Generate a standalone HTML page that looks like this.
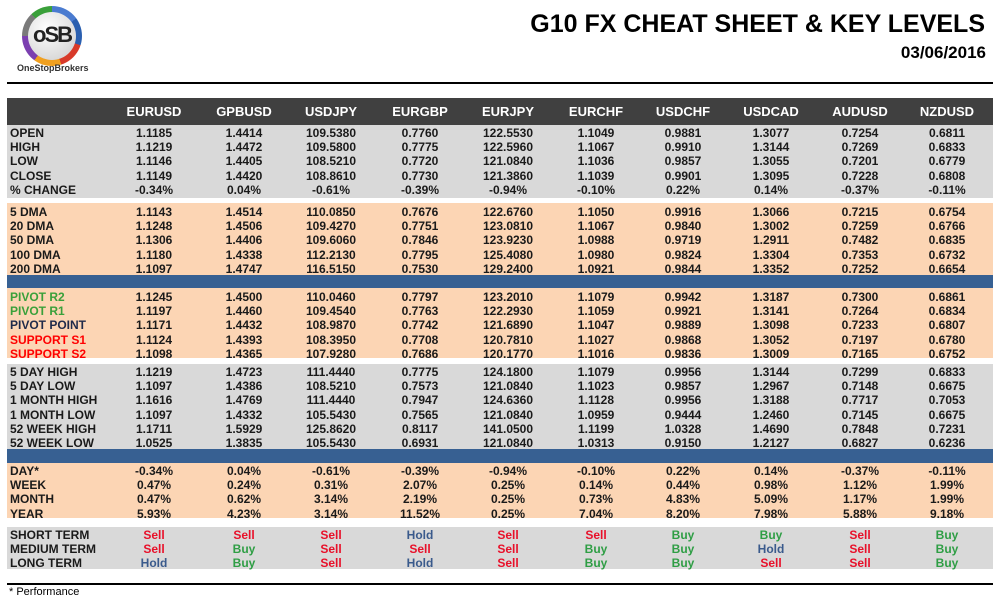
<!DOCTYPE html>
<html><head><meta charset="utf-8"><style>
body{margin:0;width:1002px;height:603px;background:#fff;position:relative;font-family:"Liberation Sans",Arial,sans-serif;overflow:hidden}
.a{position:absolute}
.sec{position:absolute;left:7px;width:986px}
.r{position:relative;height:14.2px;font-size:12px;font-weight:bold;color:#1a1a1a;line-height:14.2px}
.r span{position:absolute;width:88px;text-align:center;top:0}
.r span:first-child{left:3px;width:120px;text-align:left}
.r span:nth-child(2){left:103px}.r span:nth-child(3){left:193px}.r span:nth-child(4){left:280px}.r span:nth-child(5){left:369px}.r span:nth-child(6){left:457px}.r span:nth-child(7){left:545px}.r span:nth-child(8){left:632px}.r span:nth-child(9){left:720px}.r span:nth-child(10){left:809px}.r span:nth-child(11){left:896px}
.g{background:#d9d9d9}.p{background:#fcd5b4}.b{background:#376092}
.hd{background:#404040}.hd .r{color:#fff;font-size:13px;height:27px;line-height:27px}
.gr{color:#3aa03a!important}.rd{color:#f00!important}
.S{color:#e8102a}.B{color:#2f9e45}.H{color:#3a5a8c}
</style></head><body>
<div class="a" style="left:22px;top:6px;width:60px;height:60px;border-radius:50%;background:conic-gradient(#4a7bd0 0 15%,#2a5fb0 15% 30%,#d83a2a 30% 45%,#f0a020 45% 60%,#7b3fb0 60% 75%,#7a7a7a 75% 88%,#3aa03a 88% 100%)"></div>
<div class="a" style="left:28px;top:12px;width:48px;height:48px;border-radius:50%;background:radial-gradient(circle at 40% 35%,#fff,#ccc)"></div>
<div class="a" style="left:28px;top:22px;width:48px;text-align:center;font-weight:bold;font-size:22px;color:#222;letter-spacing:-2px">oSB</div>
<div class="a" style="left:17px;top:63px;font-size:9px;font-weight:bold;color:#333">OneStopBrokers</div>
<div class="a" style="right:17px;top:10px;font-size:25px;font-weight:bold;color:#000">G10 FX CHEAT SHEET &amp; KEY LEVELS</div>
<div class="a" style="right:16px;top:43px;font-size:17px;font-weight:bold;color:#000">03/06/2016</div>
<div class="a" style="left:7px;top:82px;width:986px;height:2px;background:#000"></div>

<div class="sec hd" style="top:98px;height:27px"><div class="r"><span></span><span>EURUSD</span><span>GPBUSD</span><span>USDJPY</span><span>EURGBP</span><span>EURJPY</span><span>EURCHF</span><span>USDCHF</span><span>USDCAD</span><span>AUDUSD</span><span>NZDUSD</span></div></div>

<div class="sec g" style="top:125px;height:73px;padding-top:1px;box-sizing:border-box">
<div class="r"><span>OPEN</span><span>1.1185</span><span>1.4414</span><span>109.5380</span><span>0.7760</span><span>122.5530</span><span>1.1049</span><span>0.9881</span><span>1.3077</span><span>0.7254</span><span>0.6811</span></div>
<div class="r"><span>HIGH</span><span>1.1219</span><span>1.4472</span><span>109.5800</span><span>0.7775</span><span>122.5960</span><span>1.1067</span><span>0.9910</span><span>1.3144</span><span>0.7269</span><span>0.6833</span></div>
<div class="r"><span>LOW</span><span>1.1146</span><span>1.4405</span><span>108.5210</span><span>0.7720</span><span>121.0840</span><span>1.1036</span><span>0.9857</span><span>1.3055</span><span>0.7201</span><span>0.6779</span></div>
<div class="r"><span>CLOSE</span><span>1.1149</span><span>1.4420</span><span>108.8610</span><span>0.7730</span><span>121.3860</span><span>1.1039</span><span>0.9901</span><span>1.3095</span><span>0.7228</span><span>0.6808</span></div>
<div class="r"><span>% CHANGE</span><span>-0.34%</span><span>0.04%</span><span>-0.61%</span><span>-0.39%</span><span>-0.94%</span><span>-0.10%</span><span>0.22%</span><span>0.14%</span><span>-0.37%</span><span>-0.11%</span></div>
</div>

<div class="sec p" style="top:203px;height:72px;padding-top:2px;box-sizing:border-box">
<div class="r"><span>5 DMA</span><span>1.1143</span><span>1.4514</span><span>110.0850</span><span>0.7676</span><span>122.6760</span><span>1.1050</span><span>0.9916</span><span>1.3066</span><span>0.7215</span><span>0.6754</span></div>
<div class="r"><span>20 DMA</span><span>1.1248</span><span>1.4506</span><span>109.4270</span><span>0.7751</span><span>123.0810</span><span>1.1067</span><span>0.9840</span><span>1.3002</span><span>0.7259</span><span>0.6766</span></div>
<div class="r"><span>50 DMA</span><span>1.1306</span><span>1.4406</span><span>109.6060</span><span>0.7846</span><span>123.9230</span><span>1.0988</span><span>0.9719</span><span>1.2911</span><span>0.7482</span><span>0.6835</span></div>
<div class="r"><span>100 DMA</span><span>1.1180</span><span>1.4338</span><span>112.2130</span><span>0.7795</span><span>125.4080</span><span>1.0980</span><span>0.9824</span><span>1.3304</span><span>0.7353</span><span>0.6732</span></div>
<div class="r"><span>200 DMA</span><span>1.1097</span><span>1.4747</span><span>116.5150</span><span>0.7530</span><span>129.2400</span><span>1.0921</span><span>0.9844</span><span>1.3352</span><span>0.7252</span><span>0.6654</span></div>
</div>
<div class="sec b" style="top:275px;height:13px"></div>

<div class="sec p" style="top:288px;height:70px;padding-top:2px;box-sizing:border-box">
<div class="r"><span class="gr">PIVOT R2</span><span>1.1245</span><span>1.4500</span><span>110.0460</span><span>0.7797</span><span>123.2010</span><span>1.1079</span><span>0.9942</span><span>1.3187</span><span>0.7300</span><span>0.6861</span></div>
<div class="r"><span class="gr">PIVOT R1</span><span>1.1197</span><span>1.4460</span><span>109.4540</span><span>0.7763</span><span>122.2930</span><span>1.1059</span><span>0.9921</span><span>1.3141</span><span>0.7264</span><span>0.6834</span></div>
<div class="r"><span style="color:#1f2a4a">PIVOT POINT</span><span>1.1171</span><span>1.4432</span><span>108.9870</span><span>0.7742</span><span>121.6890</span><span>1.1047</span><span>0.9889</span><span>1.3098</span><span>0.7233</span><span>0.6807</span></div>
<div class="r"><span class="rd">SUPPORT S1</span><span>1.1124</span><span>1.4393</span><span>108.3950</span><span>0.7708</span><span>120.7810</span><span>1.1027</span><span>0.9868</span><span>1.3052</span><span>0.7197</span><span>0.6780</span></div>
<div class="r"><span class="rd">SUPPORT S2</span><span>1.1098</span><span>1.4365</span><span>107.9280</span><span>0.7686</span><span>120.1770</span><span>1.1016</span><span>0.9836</span><span>1.3009</span><span>0.7165</span><span>0.6752</span></div>
</div>

<div class="sec g" style="top:364px;height:85px;padding-top:1px;box-sizing:border-box">
<div class="r"><span>5 DAY HIGH</span><span>1.1219</span><span>1.4723</span><span>111.4440</span><span>0.7775</span><span>124.1800</span><span>1.1079</span><span>0.9956</span><span>1.3144</span><span>0.7299</span><span>0.6833</span></div>
<div class="r"><span>5 DAY LOW</span><span>1.1097</span><span>1.4386</span><span>108.5210</span><span>0.7573</span><span>121.0840</span><span>1.1023</span><span>0.9857</span><span>1.2967</span><span>0.7148</span><span>0.6675</span></div>
<div class="r"><span>1 MONTH HIGH</span><span>1.1616</span><span>1.4769</span><span>111.4440</span><span>0.7947</span><span>124.6360</span><span>1.1128</span><span>0.9956</span><span>1.3188</span><span>0.7717</span><span>0.7053</span></div>
<div class="r"><span>1 MONTH LOW</span><span>1.1097</span><span>1.4332</span><span>105.5430</span><span>0.7565</span><span>121.0840</span><span>1.0959</span><span>0.9444</span><span>1.2460</span><span>0.7145</span><span>0.6675</span></div>
<div class="r"><span>52 WEEK HIGH</span><span>1.1711</span><span>1.5929</span><span>125.8620</span><span>0.8117</span><span>141.0500</span><span>1.1199</span><span>1.0328</span><span>1.4690</span><span>0.7848</span><span>0.7231</span></div>
<div class="r"><span>52 WEEK LOW</span><span>1.0525</span><span>1.3835</span><span>105.5430</span><span>0.6931</span><span>121.0840</span><span>1.0313</span><span>0.9150</span><span>1.2127</span><span>0.6827</span><span>0.6236</span></div>
</div>
<div class="sec b" style="top:449px;height:14px"></div>

<div class="sec p" style="top:463px;height:55px;padding-top:1px;box-sizing:border-box">
<div class="r"><span>DAY*</span><span>-0.34%</span><span>0.04%</span><span>-0.61%</span><span>-0.39%</span><span>-0.94%</span><span>-0.10%</span><span>0.22%</span><span>0.14%</span><span>-0.37%</span><span>-0.11%</span></div>
<div class="r"><span>WEEK</span><span>0.47%</span><span>0.24%</span><span>0.31%</span><span>2.07%</span><span>0.25%</span><span>0.14%</span><span>0.44%</span><span>0.98%</span><span>1.12%</span><span>1.99%</span></div>
<div class="r"><span>MONTH</span><span>0.47%</span><span>0.62%</span><span>3.14%</span><span>2.19%</span><span>0.25%</span><span>0.73%</span><span>4.83%</span><span>5.09%</span><span>1.17%</span><span>1.99%</span></div>
<div class="r"><span>YEAR</span><span>5.93%</span><span>4.23%</span><span>3.14%</span><span>11.52%</span><span>0.25%</span><span>7.04%</span><span>8.20%</span><span>7.98%</span><span>5.88%</span><span>9.18%</span></div>
</div>

<div class="sec g" style="top:527px;height:42px;padding-top:1px;box-sizing:border-box">
<div class="r"><span>SHORT TERM</span><span class="S">Sell</span><span class="S">Sell</span><span class="S">Sell</span><span class="H">Hold</span><span class="S">Sell</span><span class="S">Sell</span><span class="B">Buy</span><span class="B">Buy</span><span class="S">Sell</span><span class="B">Buy</span></div>
<div class="r"><span>MEDIUM TERM</span><span class="S">Sell</span><span class="B">Buy</span><span class="S">Sell</span><span class="S">Sell</span><span class="S">Sell</span><span class="B">Buy</span><span class="B">Buy</span><span class="H">Hold</span><span class="S">Sell</span><span class="B">Buy</span></div>
<div class="r"><span>LONG TERM</span><span class="H">Hold</span><span class="B">Buy</span><span class="S">Sell</span><span class="H">Hold</span><span class="S">Sell</span><span class="B">Buy</span><span class="B">Buy</span><span class="S">Sell</span><span class="S">Sell</span><span class="B">Buy</span></div>
</div>

<div class="a" style="left:7px;top:583px;width:986px;height:2px;background:#000"></div>
<div class="a" style="left:9px;top:586px;font-size:11px;color:#000">* Performance</div>
</body></html>
